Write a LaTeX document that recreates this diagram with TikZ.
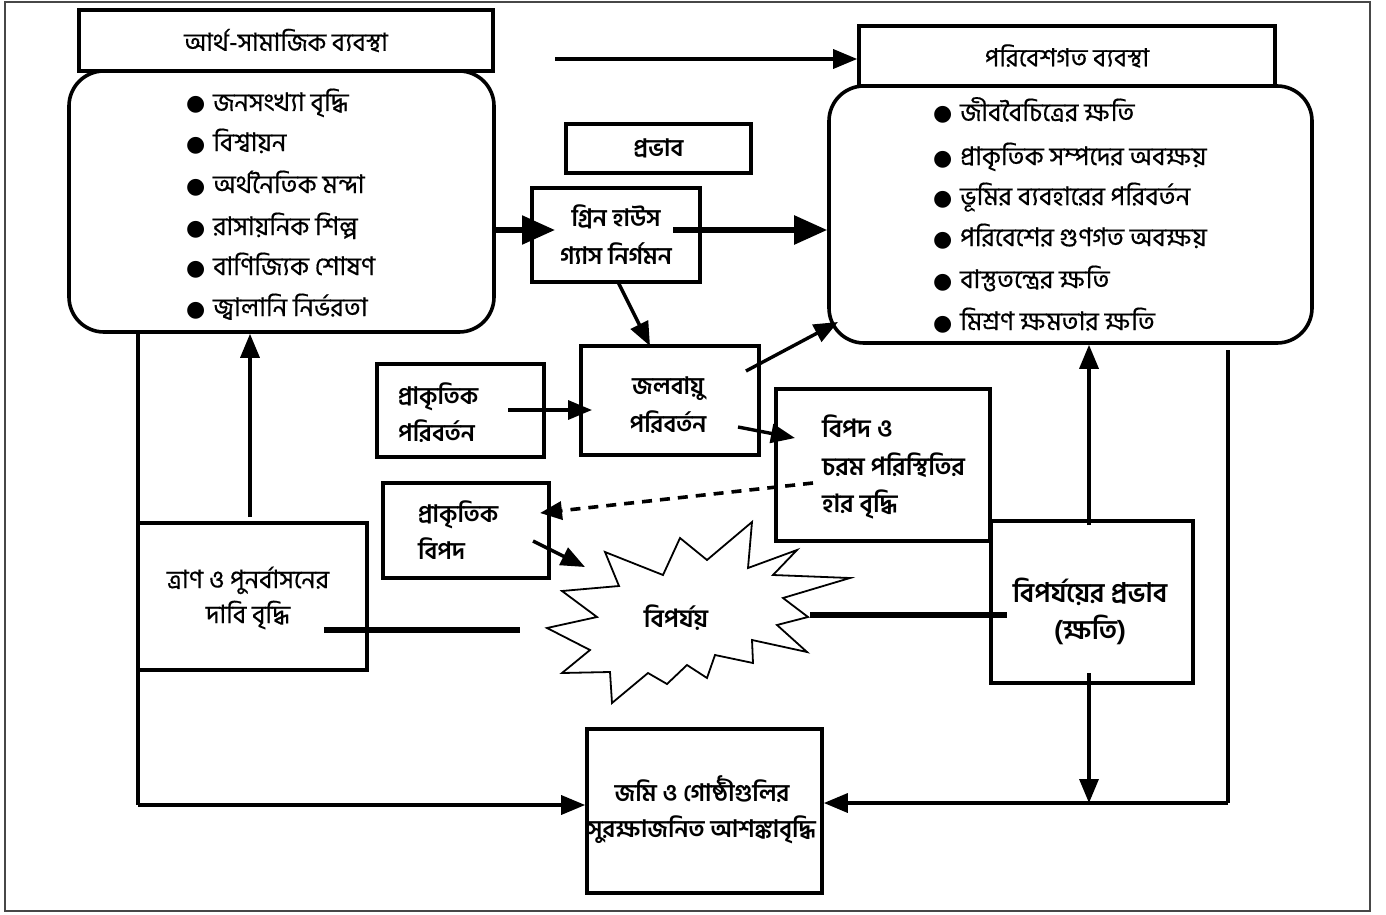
\documentclass[tikz,border=0pt]{standalone}
\usepackage{fontspec}
\setmainfont{Hind Siliguri}[Script=Bengali]
\newfontfamily\bnmed{Hind Siliguri}[Script=Bengali, FakeBold=0.5]
\newfontfamily\dejavu{DejaVu Sans}
\usetikzlibrary{arrows.meta}
\newcommand{\bul}{\makebox[27pt][l]{\dejavu\fontsize{22}{22}\selectfont ●}}
\begin{document}
\begin{tikzpicture}[x=1pt,y=-1pt,
  bx/.style={draw, line width=3.6pt, inner sep=0pt, fill=white},
  lbl/.style={font=\fontsize{24}{38}\selectfont\bfseries, inner sep=0pt, align=center},
  lbll/.style={font=\fontsize{24}{37}\selectfont\bfseries, inner sep=0pt, align=left, anchor=west},
  item/.style={font=\fontsize{25.5}{29}\selectfont\bnmed, inner sep=0pt, anchor=base west},
  arrthin/.style={line width=3.4pt, -{Triangle[length=24pt,width=19pt]}},
  arrthick/.style={line width=5.5pt, -{Triangle[length=33pt,width=28pt]}},
  plainthick/.style={line width=5.5pt},
  plainthin/.style={line width=3.4pt},
  dashedarr/.style={line width=3.6pt, dash pattern=on 10pt off 8pt, -{Triangle[length=22pt,width=18pt]}},
  burst/.style={draw, line width=1.8pt, fill=white, line join=miter}]
\useasboundingbox (0,0) rectangle (1386,915);
% outer frame
\draw[line width=2.8pt, draw=black!72] (5,2) rectangle (1370,911);

% socio-economic system
\node[bx, minimum width=425pt, minimum height=261pt, rounded corners=35pt] (sBox) at (281.5,201.5) {};
\node[bx, lbl, font=\fontsize{25}{38}\selectfont\bnmed, minimum width=414pt, minimum height=61pt] (sTitle) at (286,40.5) {আর্থ-সামাজিক ব্যবস্থা};
\node[item] (s1) at (186,111) {\bul জনসংখ্যা বৃদ্ধি};
\node[item] (s2) at (186,151) {\bul বিশ্বায়ন};
\node[item] (s3) at (186,193) {\bul অর্থনৈতিক মন্দা};
\node[item] (s4) at (186,235) {\bul রাসায়নিক শিল্প};
\node[item] (s5) at (186,275) {\bul বাণিজ্যিক শোষণ};
\node[item] (s6) at (186,316) {\bul জ্বালানি নির্ভরতা};

% environmental system
\node[bx, minimum width=483pt, minimum height=257pt, rounded corners=35pt] (eBox) at (1070.5,214.5) {};
\node[bx, lbl, font=\fontsize{25}{38}\selectfont\bnmed, minimum width=416pt, minimum height=60pt] (eTitle) at (1067,56) {পরিবেশগত ব্যবস্থা};
\node[item] (e1) at (933,121) {\bul জীববৈচিত্রের ক্ষতি};
\node[item] (e2) at (933,165) {\bul প্রাকৃতিক সম্পদের অবক্ষয়};
\node[item] (e3) at (933,205) {\bul ভূমির ব্যবহারের পরিবর্তন};
\node[item] (e4) at (933,246) {\bul পরিবেশের গুণগত অবক্ষয়};
\node[item] (e5) at (933,288) {\bul বাস্তুতন্ত্রের ক্ষতি};
\node[item] (e6) at (933,330) {\bul মিশ্রণ ক্ষমতার ক্ষতি};

% middle boxes
\node[bx, lbl, minimum width=185pt, minimum height=49pt] (prob) at (658.5,148.5) {প্রভাব};
\node[bx, lbl, minimum width=168pt, minimum height=94pt] (green) at (616,235) {গ্রিন হাউস\\গ্যাস নির্গমন};
\node[bx, minimum width=178pt, minimum height=109pt] (climate) at (670,400.5) {};
\node[lbl] (climateT) at (668,405) {জলবায়ু\\পরিবর্তন};
\node[bx, minimum width=167pt, minimum height=93pt] (natchg) at (460.5,410.5) {};
\node[lbll] (natchgT) at (398,413) {প্রাকৃতিক\\পরিবর্তন};
\node[bx, minimum width=214pt, minimum height=152pt] (hazinc) at (883,465) {};
\node[lbll, font=\fontsize{25}{37.5}\selectfont\bfseries] (hazincT) at (822,467) {বিপদ ও\\চরম পরিস্থিতির\\হার বৃদ্ধি};
\node[bx, minimum width=166pt, minimum height=95pt] (nathaz) at (466,530.5) {};
\node[lbll] (nathazT) at (418,530) {প্রাকৃতিক\\বিপদ};
\node[bx, minimum width=229pt, minimum height=147pt] (relief) at (252.5,596.5) {};
\node[lbl, font=\fontsize{25.5}{35}\selectfont\bnmed] (reliefT) at (248,598) {ত্রাণ ও পুনর্বাসনের\\দাবি বৃদ্ধি};
\node[bx, minimum width=202pt, minimum height=162pt] (impact) at (1092,602) {};
\node[lbl, font=\fontsize{27}{37}\selectfont\bfseries] (impactT) at (1090,611) {বিপর্যয়ের প্রভাব\\(ক্ষতি)};
\node[bx, minimum width=235pt, minimum height=164pt] (bottom) at (704.5,811) {};
\node[lbl, font=\fontsize{24}{36}\selectfont\bfseries] (bottomT) at (702,810) {জমি ও গোষ্ঠীগুলির\\সুরক্ষাজনিত আশঙ্কাবৃদ্ধি};

% disaster starburst
\draw[burst] (605,552) -- (663,575) -- (680,538) -- (707,560) -- (752,522) -- (748,568)
  -- (797,550) -- (773,575) -- (850,578) -- (783,598) -- (808,617) -- (777,625)
  -- (807,652) -- (752,640) -- (753,663) -- (715,655) -- (707,678) -- (687,665)
  -- (667,684) -- (648,673) -- (612,703) -- (610,672) -- (562,673) -- (590,650)
  -- (547,628) -- (597,617) -- (562,591) -- (619,586) -- cycle;
\node[lbl, font=\fontsize{25}{38}\selectfont\bfseries] (disaster) at (676,618) {বিপর্যয়};

% connectors
\coordinate (topL) at (555,59);
\draw[arrthin] (topL) -- (topL -| eTitle.west);

\coordinate (g1) at (494,230);
\coordinate (g2) at (555,230);
\draw[arrthick] (g1) -- (g2);
\coordinate (g3) at (673,230);
\draw[arrthick] (g3) -- (g3 -| eBox.west);

\coordinate (c1) at (618,282);
\coordinate (c2) at (650,346);
\draw[arrthin] (c1) -- (c2);

\coordinate (n1) at (508,410);
\coordinate (n2) at (592,410);
\draw[arrthin] (n1) -- (n2);

\coordinate (ce1) at (746,371);
\coordinate (ce2) at (838,322);
\draw[arrthin] (ce1) -- (ce2);

\coordinate (ch1) at (738,427);
\coordinate (ch2) at (795,438);
\draw[arrthin] (ch1) -- (ch2);

\coordinate (d1) at (813,483);
\coordinate (d2) at (540,513);
\draw[dashedarr] (d1) -- (d2);

\coordinate (h1) at (533,541);
\coordinate (h2) at (585,567);
\draw[arrthin] (h1) -- (h2);

\coordinate (r1) at (324,630);
\coordinate (r2) at (520,630);
\draw[plainthick] (r1) -- (r2);

\coordinate (i1) at (810,615);
\coordinate (i2) at (1007,615);
\draw[plainthick] (i1) -- (i2);

\coordinate (u1) at (1089,525);
\draw[arrthin] (u1) -- (u1 |- eBox.south);

\coordinate (v1) at (1089,673);
\coordinate (v2) at (1089,803);
\draw[arrthin] (v1) -- (v2);

\coordinate (rt1) at (1228,350);
\coordinate (rt2) at (1228,803);
\draw[plainthin] (rt1) -- (rt2);
\draw[arrthin] (rt2) -- (rt2 -| bottom.east);

\coordinate (lt1) at (138,332);
\coordinate (lt2) at (138,805);
\draw[plainthin] (lt1) -- (lt2);
\draw[arrthin] (lt2) -- (lt2 -| bottom.west);

\coordinate (up1) at (250,517);
\draw[arrthin] (up1) -- (up1 |- sBox.south);
\end{tikzpicture}
\end{document}
